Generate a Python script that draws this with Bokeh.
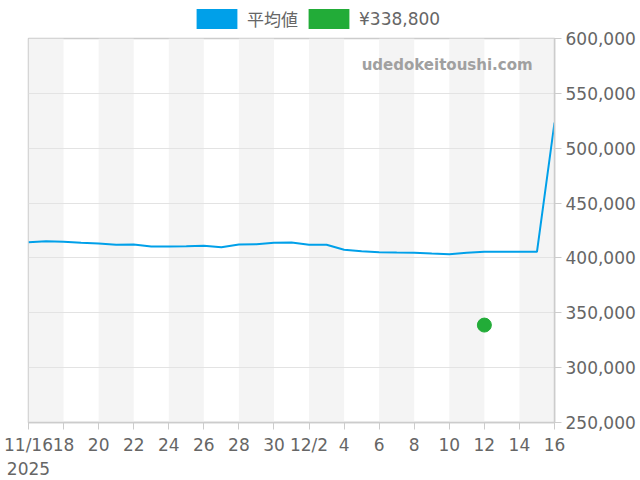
import pandas as pd
from bokeh.plotting import figure
from bokeh.layouts import column
from bokeh.models import (FixedTicker, NumeralTickFormatter, Legend, LegendItem,
                          BoxAnnotation, Label)
from bokeh.embed import file_html
from bokeh.resources import INLINE

# ---- data ----
dates = ["2025-11-16", "2025-11-17", "2025-11-18", "2025-11-19", "2025-11-20",
         "2025-11-21", "2025-11-22", "2025-11-23", "2025-11-24", "2025-11-25",
         "2025-11-26", "2025-11-27", "2025-11-28", "2025-11-29", "2025-11-30",
         "2025-12-01", "2025-12-02", "2025-12-03", "2025-12-04", "2025-12-05",
         "2025-12-06", "2025-12-07", "2025-12-08", "2025-12-09", "2025-12-10",
         "2025-12-11", "2025-12-12", "2025-12-13", "2025-12-14", "2025-12-15",
         "2025-12-16"]
avg_price = [414300, 415200, 414700, 413800, 413200, 412000, 412200, 410400,
             410400, 410700, 411100, 409800, 412200, 412500, 413800, 414100,
             412000, 412000, 407400, 406100, 405200, 404900, 404700, 404000,
             403400, 404700, 405600, 405600, 405600, 405600, 523400]
current_date = ["2025-12-12"]
current_price = [338800]
series_names = ["平均値", "¥338,800"]
x_tick_labels = ["11/16\n2025", "18", "20", "22", "24", "26", "28", "30",
                 "12/2", "4", "6", "8", "10", "12", "14", "16"]
y_ticks = [250000, 300000, 350000, 400000, 450000, 500000, 550000, 600000]
watermark = "udedokeitoushi.com"

# ---- derived ----
start = pd.Timestamp(dates[0])
xs = [(pd.Timestamp(d) - start).days for d in dates]
cx = [(pd.Timestamp(d) - start).days for d in current_date]
tick_pos = xs[::2]

BLUE = "#00a0e9"
GREEN = "#22ac38"
TXT = "#666666"
FONT = "DejaVu Sans, Noto Sans CJK JP"

# ---- legend strip (separate small figure above the chart) ----
lf = figure(width=640, height=31, output_backend="svg", toolbar_location=None,
            x_range=(0, 1), y_range=(0, 1), x_axis_location=None,
            y_axis_location=None, min_border=0, outline_line_color=None,
            background_fill_color="white", border_fill_color="white")
lf.grid.visible = False
# zero-size swatch renderers carrying the series data (outside this strip's range)
r1 = lf.rect(x=xs, y=avg_price, width=0, height=0, fill_color=BLUE,
             line_color=None)
r2 = lf.rect(x=cx, y=current_price, width=0, height=0, fill_color=GREEN,
             line_color=None)
legend = Legend(items=[LegendItem(label=series_names[0], renderers=[r1]),
                       LegendItem(label=series_names[1], renderers=[r2])],
                orientation="horizontal", location=(163, 0),
                glyph_width=51, glyph_height=25, label_standoff=5, spacing=5,
                padding=0, margin=0, border_line_color=None,
                background_fill_alpha=0, label_text_font_size="17px",
                label_text_color=TXT, label_text_font=FONT)
lf.add_layout(legend, "center")

# ---- main chart ----
p = figure(frame_width=526, frame_height=384, output_backend="svg",
           toolbar_location=None, x_range=(xs[0], xs[-1]),
           y_range=(y_ticks[0], y_ticks[-1]), y_axis_location="right",
           min_border_left=28, min_border_top=7, min_border_right=0,
           min_border_bottom=0, background_fill_color="white",
           border_fill_color="white")
p.outline_line_color = "#cccccc"
p.outline_line_width = 1.5

# alternating bands
for l, r in zip(tick_pos[0::2], tick_pos[1::2]):
    p.add_layout(BoxAnnotation(left=l, right=r, fill_color="#f4f4f4",
                               fill_alpha=1, line_color=None, level="image"))

p.xgrid.grid_line_color = None
p.ygrid.grid_line_color = "#e3e3e3"
p.ygrid.grid_line_width = 1

p.xaxis.ticker = FixedTicker(ticks=tick_pos)
p.xaxis.major_label_overrides = {t: lab for t, lab in zip(tick_pos, x_tick_labels)}
p.yaxis.ticker = FixedTicker(ticks=y_ticks)
p.yaxis.formatter = NumeralTickFormatter(format="0,0")
for ax in (p.xaxis[0], p.yaxis[0]):
    ax.axis_line_color = "#cccccc"
    ax.axis_line_width = 1.5
    ax.major_tick_line_color = "#cccccc"
    ax.major_tick_in = 0
    ax.major_tick_out = 7
    ax.minor_tick_line_color = None
    ax.major_label_text_font_size = "17px"
    ax.major_label_text_color = TXT
    ax.major_label_text_font = FONT
p.xaxis.major_label_standoff = 5
p.yaxis.major_label_standoff = 4

p.line(xs, avg_price, line_color=BLUE, line_width=2)
p.scatter(cx, current_price, size=14, color=GREEN)

p.add_layout(Label(x=28.75, y=575400, text=watermark, text_align="right",
                   text_baseline="middle", text_font_size="15px",
                   text_font_style="bold", text_color="#a0a0a0",
                   text_font="DejaVu Sans"))

open("out.html", "w").write(file_html(column(lf, p, spacing=0), INLINE))
